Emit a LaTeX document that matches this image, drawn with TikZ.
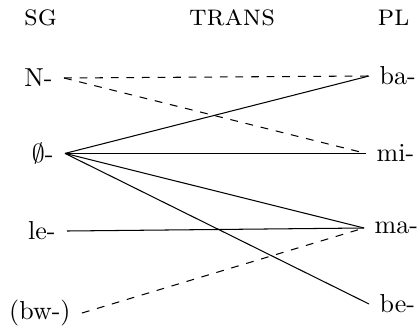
\documentclass[tikz,border=0pt]{standalone}
\begin{document}
\begin{tikzpicture}[x=0.385pt,y=-0.385pt,
  heading/.style={font=\fontsize{11.5}{13}\selectfont\scshape},
  sgform/.style={anchor=east,inner xsep=4.2pt},
  plform/.style={anchor=west,inner xsep=3.9pt}]
 \useasboundingbox (0,0) rectangle (420,329);
 \node[heading] (hsg) at (40.5,17.5) {sg};
 \node[heading] (htrans) at (232,17.5) {trans};
 \node[heading] (hpl) at (393.5,17.5) {pl};
 \node[sgform] (n) at (64,78) {N-};
 \node[sgform] (zero) at (65,153.4) {$\emptyset$-};
 \node[sgform] (le) at (67,231) {le-};
 \node[sgform] (bw) at (82,313) {(bw-)};
 \node[plform] (ba) at (369,76) {ba-};
 \node[plform] (mi) at (366,153.4) {mi-};
 \node[plform] (ma) at (364,228) {ma-};
 \node[plform] (be) at (369,304) {be-};
 \draw[dashed] (n.east)--(ba.west);
 \draw[dashed] (n.east)--(mi.west);
 \draw (zero.east)--(ba.west);
 \draw (zero.east)--(mi.west);
 \draw (zero.east)--(ma.west);
 \draw (zero.east)--(be.west);
 \draw (le.east)--(ma.west);
 \draw[dashed] (bw.east)--(ma.west);
\end{tikzpicture}
\end{document}
